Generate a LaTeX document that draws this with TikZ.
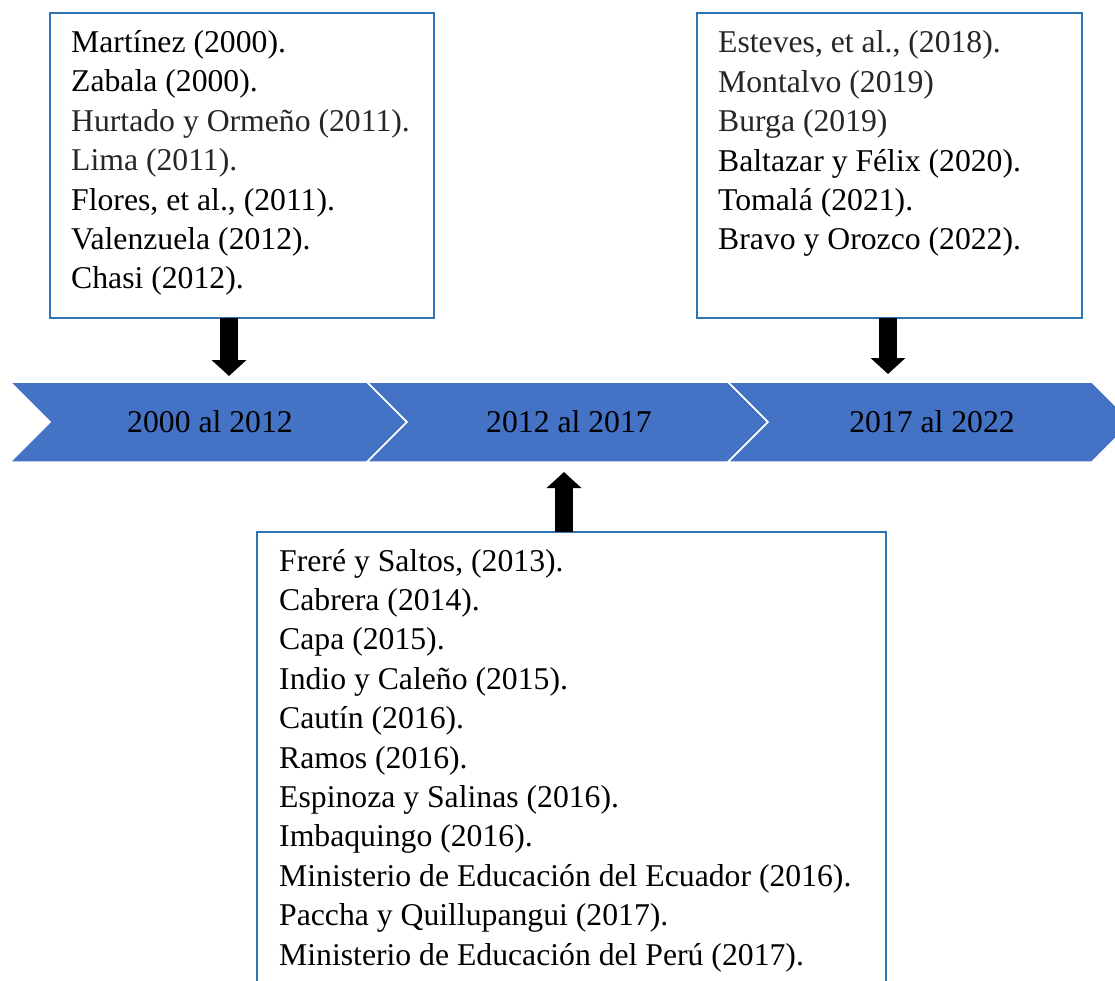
\documentclass[tikz,border=0pt]{standalone}
\usepackage{fontspec}
\setmainfont{Liberation Serif}
\usepackage{tikz}
\usetikzlibrary{arrows.meta}
\definecolor{chevblue}{HTML}{4472C4}
\definecolor{boxblue}{RGB}{46,117,182}
\definecolor{softblack}{RGB}{38,38,38}
\tikzset{%
    refbox/.style={draw=boxblue,line width=2pt,fill=white},
    reftext/.style={align=left,anchor=base west,inner sep=0pt,
        font=\fontsize{31.7}{39.4}\selectfont},
    chev/.style={fill=chevblue,draw=white,line width=1.5pt},
    period/.style={font=\fontsize{31.7}{36}\selectfont,inner sep=0pt},
    blockarrow/.style={line width=18pt,-{Triangle[width=34pt,length=16pt]}}
}
% one chevron: #1 left x, #2 width
\newcommand{\chevron}[2]{%
    \filldraw[chev] (#1,382) -- ++(#2,0) -- ++(40,40) -- ++(-40,40)
        -- (#1,462) -- ++(40,-40) -- cycle;}

\begin{document}
\begin{tikzpicture}[x=1pt,y=-1pt]
\useasboundingbox (0,0) rectangle (1115,981);
\clip (0,0) rectangle (1115,981);

\chevron{10}{357}
\chevron{367}{361}
\chevron{728}{364}
\node[period] (p1) at (210,422) {2000 al 2012};
\node[period] (p2) at (569,422) {2012 al 2017};
\node[period] (p3) at (932,422) {2017 al 2022};

\path[refbox] (50,13) rectangle (434,318);
\path[refbox] (697,13) rectangle (1082,318);
\path[refbox] (257,532) rectangle (886,1000);
\coordinate (b1) at (229,318);
\coordinate (b3) at (888,318);
\coordinate (b2) at (564,532);

% base of a list node is its last line
\node[reftext] (list1) at (71,289) {Martínez (2000).\\
    Zabala (2000).\\
    \textcolor{softblack}{Hurtado y Ormeño (2011).}\\
    \textcolor{softblack}{Lima (2011).}\\
    Flores, et al., (2011).\\
    Valenzuela (2012).\\
    Chasi (2012).};
\node[reftext] (list3) at (718,250) {\textcolor{softblack}{Esteves, et al., (2018).}\\
    \textcolor{softblack}{Montalvo (2019)}\\
    \textcolor{softblack}{Burga (2019)}\\
    Baltazar y Félix (2020).\\
    Tomalá (2021).\\
    Bravo y Orozco (2022).};
\node[reftext] (list2) at (279,965) {Freré y Saltos, (2013).\\
    Cabrera (2014).\\
    Capa (2015).\\
    Indio y Caleño (2015).\\
    Cautín (2016).\\
    Ramos (2016).\\
    Espinoza y Salinas (2016).\\
    Imbaquingo (2016).\\
    Ministerio de Educación del Ecuador (2016).\\
    Paccha y Quillupangui (2017).\\
    Ministerio de Educación del Perú (2017).};

\coordinate (t1) at (229,376);
\coordinate (t3) at (888,374);
\coordinate (t2) at (564,472);
\draw[blockarrow] (b1) -- (t1);
\draw[blockarrow] (b3) -- (t3);
\draw[blockarrow] (b2) -- (t2);
\end{tikzpicture}
\end{document}
